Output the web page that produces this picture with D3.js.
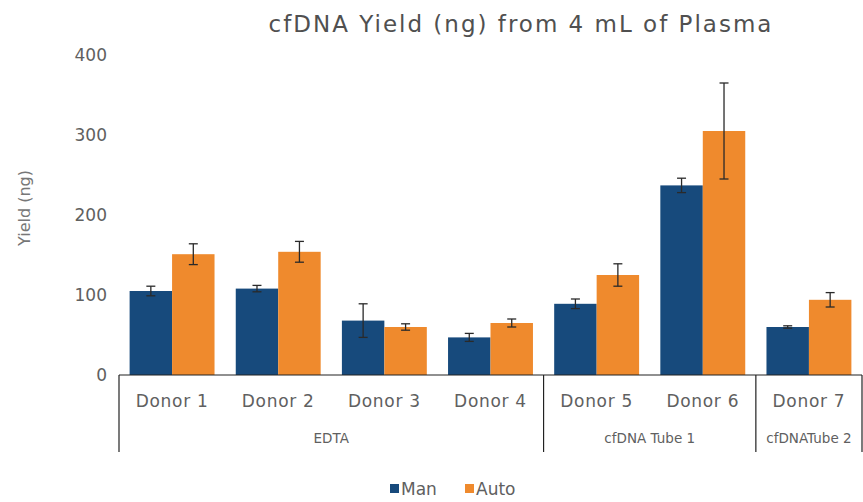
<!DOCTYPE html>
<html>
<head>
<meta charset="utf-8">
<script src="https://cdn.jsdelivr.net/npm/d3@7"></script>
<style>
  body { margin: 0; background: #fff; }
  svg { display: block; font-family: "DejaVu Sans", sans-serif; }
</style>
</head>
<body>
<svg id="chart" width="863" height="502"></svg>
<script>
// data
const donors = ['Donor 1', 'Donor 2', 'Donor 3', 'Donor 4', 'Donor 5', 'Donor 6', 'Donor 7'];
const seriesNames = ['Man', 'Auto'];
const manValues = [105, 108, 68, 47, 89, 237, 60];
const manErrors = [6, 4, 21, 5, 6, 9, 1.5];
const autoValues = [151, 154, 60, 65, 125, 305, 94];
const autoErrors = [13, 13, 4, 5, 14, 60, 9];
const groups = [
  { name: 'EDTA', from: 'Donor 1', to: 'Donor 4' },
  { name: 'cfDNA Tube 1', from: 'Donor 5', to: 'Donor 6' },
  { name: 'cfDNATube 2', from: 'Donor 7', to: 'Donor 7' }
];
const yTicks = [0, 100, 200, 300, 400];

const colors = { Man: '#174a7c', Auto: '#ef8a2d' };
const textColor = '#606060';

const svg = d3.select('#chart');
const plotLeft = 119, plotRight = 862, plotTop = 55, plotBottom = 375;

const x0 = d3.scaleBand().domain(donors).range([plotLeft, plotRight]).paddingInner(0.2).paddingOuter(0.1);
const x1 = d3.scaleBand().domain(seriesNames).range([0, x0.bandwidth()]);
const y = d3.scaleLinear().domain([0, 400]).range([plotBottom, plotTop]);

// build rows per donor
const rows = donors.map((d, i) => ({
  donor: d,
  values: [
    { key: 'Man', value: manValues[i], err: manErrors[i] },
    { key: 'Auto', value: autoValues[i], err: autoErrors[i] }
  ]
}));

// title
svg.append('text')
  .attr('x', 521).attr('y', 32)
  .attr('text-anchor', 'middle')
  .style('font-size', '23px')
  .style('letter-spacing', '2px')
  .attr('fill', '#505050')
  .text('cfDNA Yield (ng) from 4 mL of Plasma');

// y axis labels only
const yAxis = d3.axisLeft(y).tickValues(yTicks).tickSize(0).tickPadding(12);
const yg = svg.append('g').attr('transform', `translate(${plotLeft},0)`).call(yAxis);
yg.select('.domain').remove();
yg.selectAll('text').style('font-size', '17px').style('font-family', '"DejaVu Sans", sans-serif').attr('fill', textColor);

svg.append('text')
  .attr('transform', 'translate(30,' + 208 + ') rotate(-90)')
  .attr('text-anchor', 'middle')
  .style('font-size', '16px')
  .attr('fill', '#777')
  .text('Yield (ng)');

// bars
const grp = svg.selectAll('.donor')
  .data(rows)
  .enter().append('g')
  .attr('class', 'donor')
  .attr('transform', d => `translate(${x0(d.donor)},0)`);

grp.selectAll('rect')
  .data(d => d.values)
  .enter().append('rect')
  .attr('x', d => x1(d.key))
  .attr('width', x1.bandwidth())
  .attr('y', d => y(d.value))
  .attr('height', d => y(0) - y(d.value))
  .attr('fill', d => colors[d.key]);

// error bars
const eb = grp.selectAll('.err')
  .data(d => d.values)
  .enter().append('g')
  .attr('class', 'err')
  .attr('stroke', '#2a2a2a')
  .attr('stroke-width', 1.3);

eb.append('line')
  .attr('x1', d => x1(d.key) + x1.bandwidth() / 2)
  .attr('x2', d => x1(d.key) + x1.bandwidth() / 2)
  .attr('y1', d => y(d.value - d.err))
  .attr('y2', d => y(d.value + d.err));
[1, -1].forEach(s => {
  eb.append('line')
    .attr('x1', d => x1(d.key) + x1.bandwidth() / 2 - 4.5)
    .attr('x2', d => x1(d.key) + x1.bandwidth() / 2 + 4.5)
    .attr('y1', d => y(d.value + s * d.err))
    .attr('y2', d => y(d.value + s * d.err));
});

// x axis: baseline, category labels, group brackets
const halfGap = x0.step() * x0.paddingInner() / 2;
svg.append('line')
  .attr('x1', plotLeft).attr('x2', plotRight)
  .attr('y1', y(0)).attr('y2', y(0))
  .attr('stroke', '#222').attr('stroke-width', 1.2);

svg.selectAll('.cat')
  .data(donors)
  .enter().append('text')
  .attr('class', 'cat')
  .attr('x', d => x0(d) + x0.bandwidth() / 2)
  .attr('y', 407)
  .attr('text-anchor', 'middle')
  .style('font-size', '17px')
  .style('letter-spacing', '0.7px')
  .attr('fill', textColor)
  .text(d => d);

const bounds = groups.map(g => ({
  name: g.name,
  x1: g.from === donors[0] ? plotLeft : x0(g.from) - halfGap,
  x2: g.to === donors[donors.length - 1] ? plotRight : x0(g.to) + x0.bandwidth() + halfGap
}));

const sepX = [plotLeft].concat(bounds.map(b => b.x2));
svg.selectAll('.sep')
  .data(sepX)
  .enter().append('line')
  .attr('class', 'sep')
  .attr('x1', d => d).attr('x2', d => d)
  .attr('y1', y(0)).attr('y2', 452)
  .attr('stroke', '#222').attr('stroke-width', 1.2);

svg.selectAll('.grplabel')
  .data(bounds)
  .enter().append('text')
  .attr('class', 'grplabel')
  .attr('x', d => (d.x1 + d.x2) / 2)
  .attr('y', 443)
  .attr('text-anchor', 'middle')
  .style('font-size', '13.5px')
  .attr('fill', textColor)
  .text(d => d.name);

// legend
const legendX = { Man: 390, Auto: 465 };
const lg = svg.selectAll('.legend')
  .data(seriesNames)
  .enter().append('g')
  .attr('class', 'legend')
  .attr('transform', d => `translate(${legendX[d]},484)`);
lg.append('rect').attr('y', 0).attr('width', 9).attr('height', 9).attr('fill', d => colors[d]);
lg.append('text')
  .attr('x', 11).attr('y', 11)
  .style('font-size', '17px')
  .attr('fill', textColor)
  .text(d => d);
</script>
</body>
</html>
